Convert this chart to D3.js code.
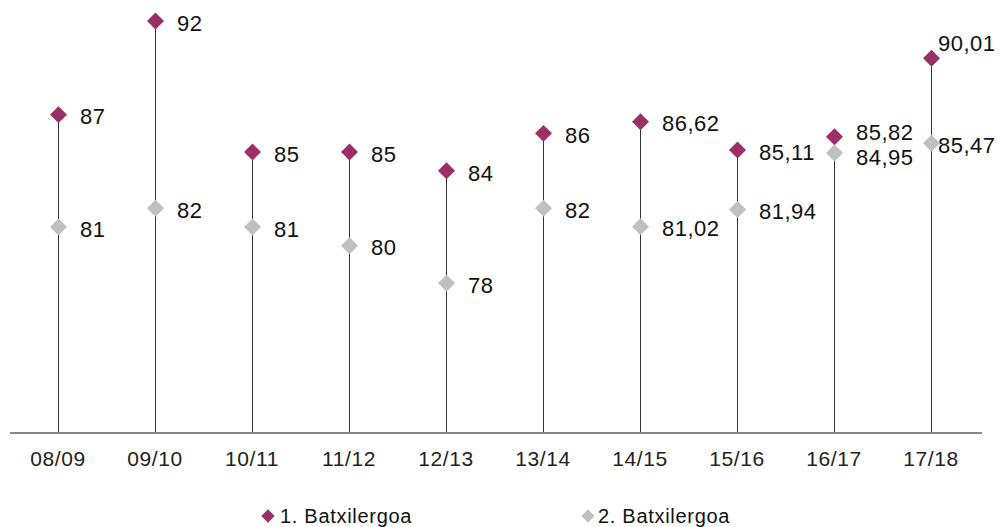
<!DOCTYPE html>
<html><head><meta charset="utf-8">
<script src="https://cdn.jsdelivr.net/npm/d3@7"></script>
<style>body{margin:0;background:#fff}svg{display:block;font-family:"Liberation Sans",Arial,sans-serif}</style>
</head><body><svg id="c" width="999" height="527"></svg>
<script>
const categories=["08/09","09/10","10/11","11/12","12/13","13/14","14/15","15/16","16/17","17/18"];
const batx1=[87,92,85,85,84,86,86.62,85.11,85.82,90.01];
const batx2=[81,82,81,80,78,82,81.02,81.94,84.95,85.47];
const seriesNames=["1. Batxilergoa","2. Batxilergoa"];
const colors=["#9B2F68","#C0C0C0"];
const fmt=v=>Number.isInteger(v)?String(v):v.toFixed(2).replace(".",",");

const svg=d3.select("#c");
const x=d3.scaleBand().domain(categories).range([9.5,979.5]);
const y=d3.scaleLinear().domain([70,92]).range([433,21]);
const cx=c=>Math.round(x(c)+x.bandwidth()/2);

// drop lines
svg.append("g").selectAll("line").data(categories).join("line")
 .attr("x1",c=>cx(c)+0.5).attr("x2",c=>cx(c)+0.5).attr("y1",y(70))
 .attr("y2",(c,i)=>y(Math.max(batx1[i],batx2[i])))
 .attr("stroke","#333").attr("stroke-width",1);

// axis
const ax=svg.append("g").attr("transform",`translate(0,${y(70)})`)
 .call(d3.axisBottom(x).tickSize(0).tickPadding(18));
ax.select(".domain").attr("stroke","#888").attr("stroke-width",2).attr("d","M10,0H982");
ax.selectAll("text").attr("font-size",21).attr("letter-spacing","0.6px").attr("fill","#222")
 .attr("font-family","Liberation Sans, Arial, sans-serif");

function series(vals,col,labelOff){
 const g=svg.append("g");
 g.selectAll("path").data(vals).join("path")
  .attr("d",d3.symbol().type(d3.symbolSquare).size(144))
  .attr("transform",(v,i)=>`translate(${cx(categories[i])+0.5},${y(v)}) rotate(45)`)
  .attr("fill",col);
 g.selectAll("text").data(vals).join("text")
  .attr("x",(v,i)=>cx(categories[i])+labelOff(i)[0])
  .attr("y",(v,i)=>y(v)+labelOff(i)[1])
  .attr("dy","0.35em").attr("font-size",22).attr("letter-spacing","0.5px").attr("fill","#111")
  .text(fmt);
}
const last=categories.length-1;
series(batx1,colors[0],i=>i===last?[7,-15]:(i===last-1?[22,-4]:[22,2]));
series(batx2,colors[1],i=>i===last?[7,2]:(i===last-1?[22,4]:[22,2]));

// legend
const leg=svg.append("g");
[[268,280],[588,598]].forEach((p,k)=>{
 leg.append("path").attr("d",d3.symbol().type(d3.symbolSquare).size(88))
  .attr("transform",`translate(${p[0]},516) rotate(45)`).attr("fill",colors[k]);
 leg.append("text").attr("x",p[1]).attr("y",516).attr("dy","0.35em")
  .attr("font-size",20).attr("letter-spacing","0.7px").attr("fill","#111").text(seriesNames[k]);
});
</script></body></html>
